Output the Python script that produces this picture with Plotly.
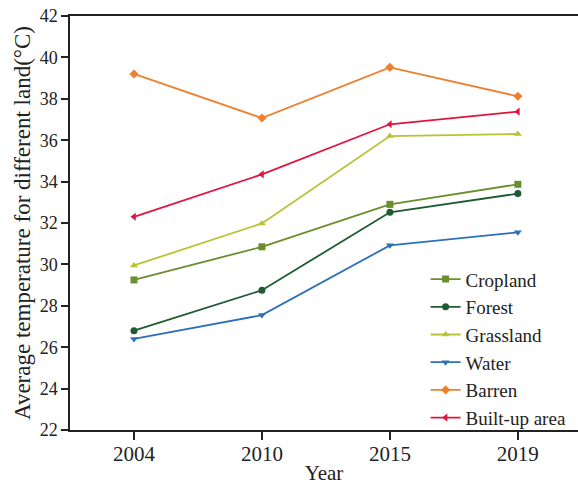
import plotly.graph_objects as go

years = ["2004", "2010", "2015", "2019"]
cropland = [29.25, 30.85, 32.9, 33.87]
forest = [26.8, 28.75, 32.52, 33.42]
grassland = [29.95, 31.98, 36.2, 36.3]
water = [26.4, 27.55, 30.92, 31.55]
barren = [39.2, 37.07, 39.52, 38.12]
builtup = [32.3, 34.35, 36.77, 37.38]

series = [
    ("Cropland", cropland, "#6b8e2f", "square"),
    ("Forest", forest, "#1e5a32", "circle"),
    ("Grassland", grassland, "#b8c234", "triangle-up"),
    ("Water", water, "#2e6fb8", "triangle-down"),
    ("Barren", barren, "#ee7f2d", "diamond"),
    ("Built-up area", builtup, "#e0143c", "triangle-left"),
]

fig = go.Figure()
for name, vals, col, sym in series:
    fig.add_trace(go.Scatter(
        x=years, y=vals, name=name, mode="lines+markers",
        line=dict(color=col, width=1.8),
        marker=dict(symbol=sym, size=7, color=col),
    ))

font = "Liberation Serif, Times New Roman, serif"
fig.update_layout(
    width=578, height=485,
    margin=dict(l=70, r=0, t=16, b=55),
    paper_bgcolor="white", plot_bgcolor="white",
    font=dict(family=font, size=17, color="#222"),
    showlegend=True,
    legend=dict(x=0.70, y=0.41, xanchor="left", yanchor="top",
                bgcolor="rgba(0,0,0,0)", font=dict(size=19, family=font),
                tracegroupgap=0),
    xaxis=dict(
        type="category", range=[-0.5, 3.47], automargin=False,
        showline=True, linecolor="#222", linewidth=1.5, mirror=True,
        ticks="outside", ticklen=8, tickcolor="#222", tickwidth=1.5,
        ticklabelstandoff=-4,
        showgrid=False, zeroline=False,
        title=dict(text="Year", font=dict(size=21), standoff=3),
        tickfont=dict(size=21),
    ),
    yaxis=dict(
        range=[22, 42], dtick=2, automargin=False,
        showline=True, linecolor="#222", linewidth=1.5,
        ticks="outside", ticklen=7, tickcolor="#222", tickwidth=1.5,
        ticklabeloverflow="allow",
        showgrid=False, zeroline=False,
        title=dict(text="Average temperature for different land(\u00b0C)", font=dict(size=23), standoff=3),
        tickfont=dict(size=18),
    ),
)
fig.add_shape(type="line", xref="paper", yref="paper", x0=-0.018, x1=0, y0=0, y1=0,
              line=dict(color="#222", width=1.5))
fig.write_html("out.html", config={"displayModeBar": False},
               post_script="document.body.style.margin='0';")
